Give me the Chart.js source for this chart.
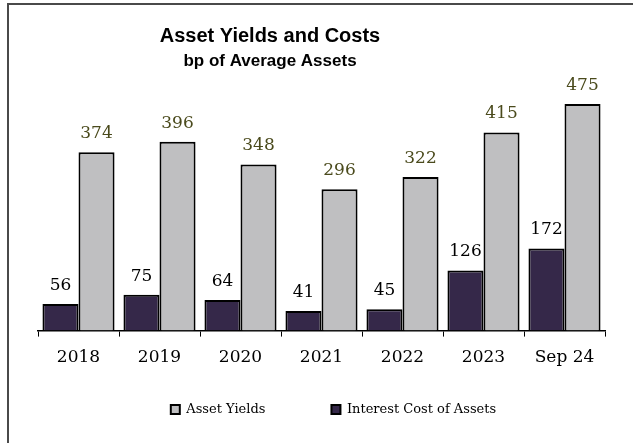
<!DOCTYPE html>
<html>
<head>
<meta charset="utf-8">
<script src="https://cdn.jsdelivr.net/npm/chart.js@4.4.1/dist/chart.umd.min.js"></script>
<style>
  html, body { margin: 0; padding: 0; background: #fff; overflow: hidden; width: 633px; height: 443px; }
  .frame { position: absolute; left: 7px; top: 3px; width: 700px; height: 500px;
           border-top: 2px solid #4a4a4a; border-left: 2px solid #4a4a4a; }
  #yields { position: absolute; left: 8px; top: 0; }
</style>
</head>
<body>
<div class="frame"></div>
<canvas id="yields" width="666" height="443"></canvas>
<script>
const periods = ['2018', '2019', '2020', '2021', '2022', '2023', 'Sep 24'];
const assetYields = [374, 396, 348, 296, 322, 415, 475];
const interestCost = [56, 75, 64, 41, 45, 126, 172];

const serif = '"DejaVu Serif", serif';

// headline text sits a little left of the plot centre
const headline = {
  id: 'headline',
  afterDraw(chart) {
    const c = chart.ctx;
    c.save();
    c.fillStyle = '#000';
    c.textAlign = 'center';
    c.textBaseline = 'alphabetic';
    c.font = 'bold 20px "Liberation Sans", Arial, sans-serif';
    c.fillText('Asset Yields and Costs', 262, 42);
    c.font = 'bold 17px "Liberation Sans", Arial, sans-serif';
    c.fillText('bp of Average Assets', 262, 66);
    c.restore();
  }
};

// value printed above each bar
const barValues = {
  id: 'barValues',
  afterDatasetsDraw(chart) {
    const c = chart.ctx;
    c.save();
    c.font = '17px ' + serif;
    c.textAlign = 'center';
    c.textBaseline = 'bottom';
    chart.data.datasets.forEach((ds, i) => {
      c.fillStyle = ds.labelColor;
      chart.getDatasetMeta(i).data.forEach((bar, j) => {
        c.fillText(String(ds.data[j]), bar.x, bar.y - 10);
      });
    });
    c.restore();
  }
};

// the wide item padding also pads the legend vertically, so pull it up
// and nudge it a little to the right
const legendUp = {
  id: 'legendUp',
  afterLayout(chart) {
    const lg = chart.legend;
    lg.top = 337;
    lg.bottom = chart.height;
    lg.height = lg.bottom - lg.top;
    lg.left += 12;
    lg.right += 12;
  }
};

new Chart(document.getElementById('yields'), {
  type: 'bar',
  data: {
    labels: periods,
    datasets: [{
      label: 'Interest Cost of Assets',
      data: interestCost,
      backgroundColor: '#352849',
      borderColor: '#000',
      borderWidth: 2,
      labelColor: '#000'
    }, {
      label: 'Asset Yields',
      data: assetYields,
      backgroundColor: '#bfbfc1',
      borderColor: '#000',
      borderWidth: 2,
      labelColor: '#4a4a1c'
    }]
  },
  options: {
    responsive: false,
    animation: false,
    layout: { padding: { top: 92, left: 30, right: 69, bottom: 7 } },
    datasets: { bar: { categoryPercentage: 0.89, barPercentage: 1 } },
    scales: {
      x: {
        grid: { offset: true, drawOnChartArea: false, tickLength: 6, color: '#000', lineWidth: 1 },
        border: { display: true, color: '#000', width: 1.5 },
        ticks: { color: '#000', font: { family: serif, size: 17 }, padding: 11 }
      },
      y: { display: false, min: 0, max: 500 }
    },
    plugins: {
      legend: {
        position: 'bottom',
        reverse: true,
        maxHeight: 57,
        labels: {
          color: '#000',
          font: { family: serif, size: 13 },
          boxWidth: 9,
          boxHeight: 9,
          padding: 66
        }
      },
      tooltip: { enabled: false }
    }
  },
  plugins: [headline, barValues, legendUp]
});
</script>
</body>
</html>
